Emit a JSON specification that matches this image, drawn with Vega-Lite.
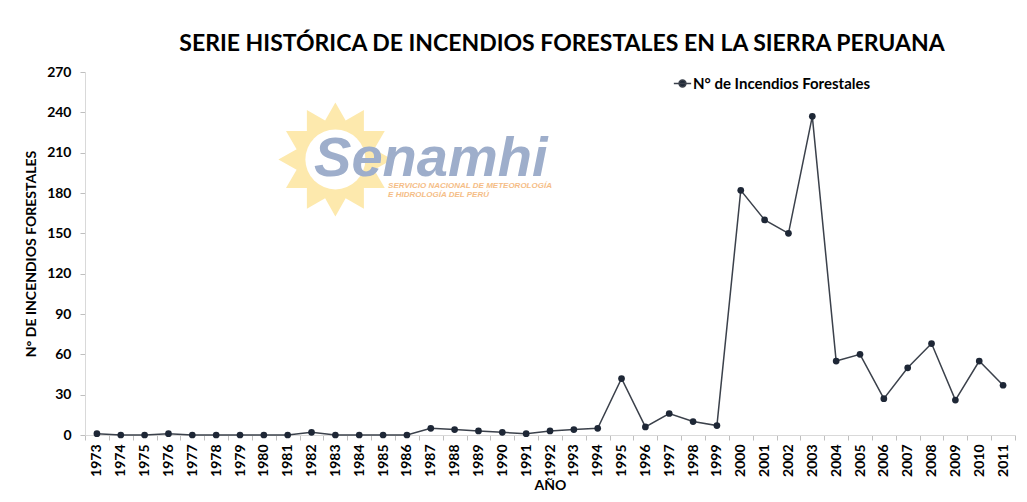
{
  "$schema": "https://vega.github.io/schema/vega-lite/v6.json",
  "autosize": {"type": "none"},
  "width": 930,
  "height": 363,
  "padding": {"left": 85, "top": 72, "right": 12, "bottom": 67},
  "background": "white",
  "title": {
    "text": "SERIE HISTÓRICA DE  INCENDIOS FORESTALES EN LA SIERRA PERUANA",
    "font": "Lato",
    "fontSize": 23,
    "fontWeight": "bold",
    "color": "#000000",
    "anchor": "middle",
    "frame": "group",
    "dx": 12,
    "offset": 9
  },
  "config": {
    "view": {"stroke": null},
    "axis": {
      "labelFont": "Lato",
      "labelFontWeight": "bold",
      "labelFontSize": 14,
      "labelColor": "#000000",
      "titleFont": "Lato",
      "titleFontWeight": "bold",
      "titleFontSize": 14,
      "titleColor": "#000000",
      "grid": false,
      "domainColor": "#d9d9d9",
      "tickColor": "#bfbfbf"
    },
    "legend": {
      "labelFont": "Lato",
      "labelFontWeight": "bold",
      "labelFontSize": 15,
      "labelColor": "#000000",
      "labelLimit": 400
    }
  },
  "data": {
    "values": [
      {"year": "1973", "n": 1}, {"year": "1974", "n": 0}, {"year": "1975", "n": 0},
      {"year": "1976", "n": 1}, {"year": "1977", "n": 0}, {"year": "1978", "n": 0},
      {"year": "1979", "n": 0}, {"year": "1980", "n": 0}, {"year": "1981", "n": 0},
      {"year": "1982", "n": 2}, {"year": "1983", "n": 0}, {"year": "1984", "n": 0},
      {"year": "1985", "n": 0}, {"year": "1986", "n": 0}, {"year": "1987", "n": 5},
      {"year": "1988", "n": 4}, {"year": "1989", "n": 3}, {"year": "1990", "n": 2},
      {"year": "1991", "n": 1}, {"year": "1992", "n": 3}, {"year": "1993", "n": 4},
      {"year": "1994", "n": 5}, {"year": "1995", "n": 42}, {"year": "1996", "n": 6},
      {"year": "1997", "n": 16}, {"year": "1998", "n": 10}, {"year": "1999", "n": 7},
      {"year": "2000", "n": 182}, {"year": "2001", "n": 160}, {"year": "2002", "n": 150},
      {"year": "2003", "n": 237}, {"year": "2004", "n": 55}, {"year": "2005", "n": 60},
      {"year": "2006", "n": 27}, {"year": "2007", "n": 50}, {"year": "2008", "n": 68},
      {"year": "2009", "n": 26}, {"year": "2010", "n": 55}, {"year": "2011", "n": 37}
    ]
  },
  "encoding": {
    "x": {
      "field": "year",
      "type": "ordinal",
      "scale": {"paddingInner": 0, "paddingOuter": 0},
      "axis": {
        "title": "AÑO",
        "labelAngle": -90,
        "labelPadding": 4,
        "tickSize": 5,
        "tickBand": "extent",
        "titlePadding": 2
      }
    },
    "y": {
      "field": "n",
      "type": "quantitative",
      "scale": {"domain": [0, 270], "nice": false},
      "axis": {
        "title": "N° DE INCENDIOS FORESTALES",
        "values": [0, 30, 60, 90, 120, 150, 180, 210, 240, 270],
        "tickSize": 5,
        "labelPadding": 9,
        "titlePadding": 8
      }
    }
  },
  "layer": [
    {
      "transform": [{"filter": "datum.year === '1983'"}],
      "mark": {"type": "point", "filled": true, "opacity": 1, "color": "#fde9ad",
        "size": 13000,
        "shape": "M1,0 L0.68,0.18 L0.866,0.5 L0.5,0.5 L0.5,0.866 L0.18,0.68 L0,1 L-0.18,0.68 L-0.5,0.866 L-0.5,0.5 L-0.866,0.5 L-0.68,0.18 L-1,0 L-0.68,-0.18 L-0.866,-0.5 L-0.5,-0.5 L-0.5,-0.866 L-0.18,-0.68 L0,-1 L0.18,-0.68 L0.5,-0.866 L0.5,-0.5 L0.866,-0.5 L0.68,-0.18 Z"},
      "encoding": {"x": {"datum": "1983"}, "y": {"datum": 205}}
    },
    {
      "transform": [{"filter": "datum.year === '1983'"}],
      "mark": {"type": "point", "filled": true, "opacity": 1, "color": "#ffffff", "size": 3600, "shape": "circle"},
      "encoding": {"x": {"datum": "1983"}, "y": {"datum": 205}}
    },
    {
      "transform": [{"filter": "datum.year === '1983'"}],
      "mark": {"type": "text", "text": "Senamhi", "font": "Liberation Sans", "fontSize": 56,
        "fontWeight": "bold", "fontStyle": "italic", "color": "#9eaecb", "align": "center", "baseline": "alphabetic"},
      "encoding": {"x": {"datum": "1987"}, "y": {"datum": 193}}
    },
    {
      "transform": [{"filter": "datum.year === '1983'"}],
      "mark": {"type": "text", "text": "SERVICIO NACIONAL DE METEOROLOGÍA", "font": "Liberation Sans", "fontSize": 8,
        "fontWeight": "bold", "fontStyle": "italic", "color": "#f5bd86", "align": "left", "baseline": "middle", "dx": 5},
      "encoding": {"x": {"datum": "1985"}, "y": {"datum": 185.5}}
    },
    {
      "transform": [{"filter": "datum.year === '1983'"}],
      "mark": {"type": "text", "text": "E HIDROLOGÍA DEL PERÚ", "font": "Liberation Sans", "fontSize": 8,
        "fontWeight": "bold", "fontStyle": "italic", "color": "#f5bd86", "align": "left", "baseline": "middle", "dx": 5},
      "encoding": {"x": {"datum": "1985"}, "y": {"datum": 178.5}}
    },
    {
      "mark": {"type": "line", "strokeWidth": 1.5},
      "encoding": {
        "color": {
          "datum": "N° de Incendios Forestales",
          "scale": {"range": ["#3b414b"]},
          "legend": {
            "title": null,
            "orient": "none",
            "legendX": 588,
            "legendY": 2,
            "symbolType": "M-1,0 L1,0 M-0.4,0 A0.4,0.4 0 1,1 0.4,0 A0.4,0.4 0 1,1 -0.4,0 Z",
            "symbolFillColor": "#1e2736",
            "symbolStrokeColor": "#3b414b",
            "symbolStrokeWidth": 1.5,
            "symbolSize": 300,
            "labelOffset": 1
          }
        }
      }
    },
    {
      "mark": {"type": "point", "filled": true, "opacity": 1, "color": "#1e2736", "size": 45}
    }
  ]
}
